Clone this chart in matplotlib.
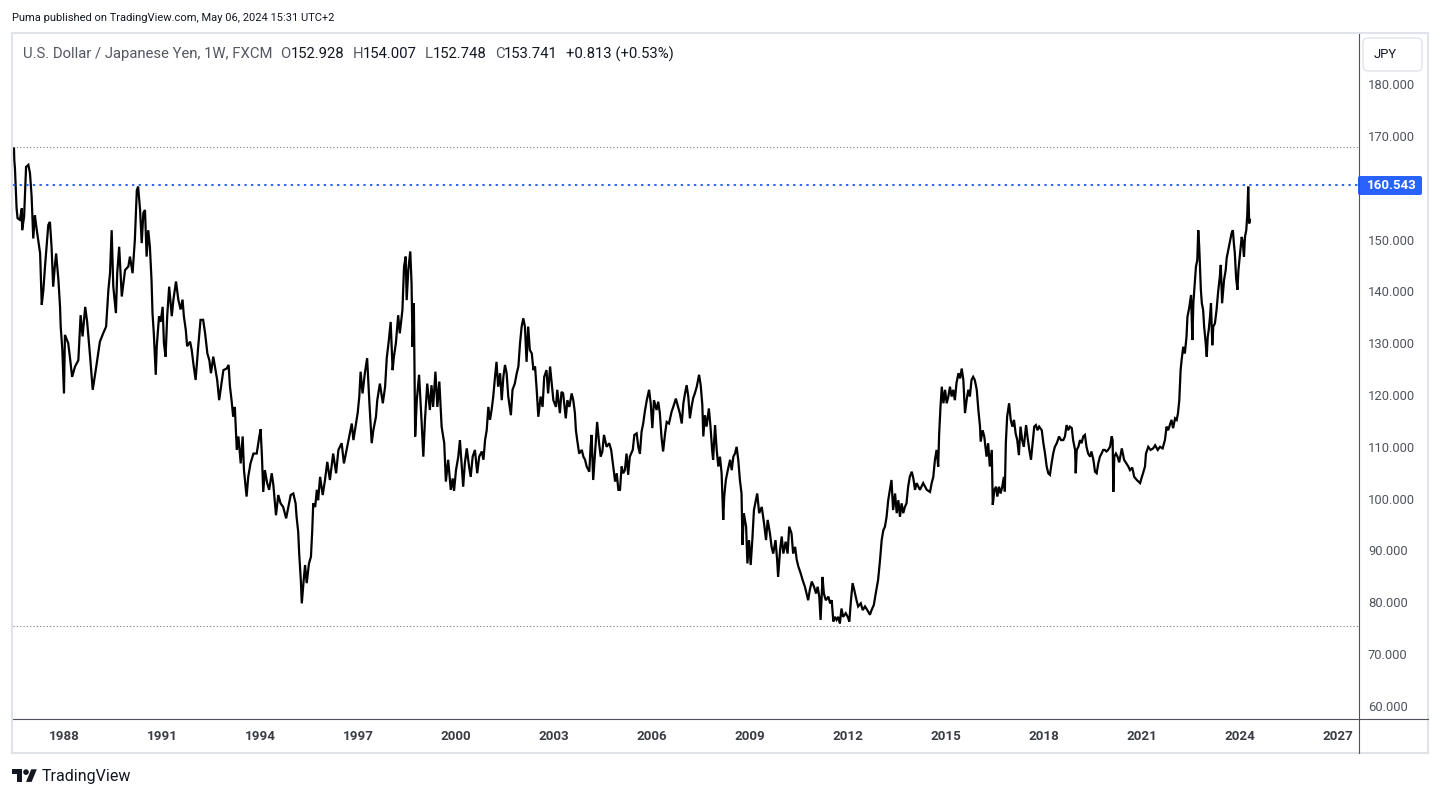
import matplotlib
matplotlib.use("Agg")
import matplotlib.pyplot as plt
from matplotlib.lines import Line2D
from matplotlib.patches import FancyBboxPatch, Rectangle, Polygon, Circle
from matplotlib.transforms import Affine2D

# %% Data (weekly USD/JPY; x in decimal years)
YEARS_1986 = [1986.47, 1986.48, 1986.50, 1986.55, 1986.58, 1986.65, 1986.71, 1986.72, 1986.78, 1986.84, 1986.91, 1986.96,
              1987.01, 1987.06, 1987.11, 1987.16, 1987.27, 1987.32, 1987.37, 1987.42, 1987.52, 1987.57, 1987.62, 1987.67,
              1987.72, 1987.76, 1987.83, 1987.88, 1987.90, 1987.95,
              1988.00, 1988.03, 1988.13, 1988.18, 1988.25, 1988.34, 1988.44, 1988.51, 1988.57, 1988.65, 1988.71, 1988.80,
              1988.88, 1988.98,
              1989.10, 1989.20, 1989.29, 1989.36, 1989.41, 1989.46, 1989.51, 1989.59, 1989.63, 1989.69, 1989.77, 1989.87,
              1989.97,
              1990.02, 1990.10, 1990.17, 1990.23, 1990.27, 1990.33, 1990.38, 1990.43, 1990.48, 1990.53, 1990.58, 1990.63,
              1990.68, 1990.71, 1990.75, 1990.81, 1990.84, 1990.91, 1990.96,
              1991.02, 1991.06, 1991.11, 1991.16, 1991.22, 1991.30, 1991.35, 1991.43, 1991.50, 1991.57, 1991.63, 1991.67,
              1991.73, 1991.77, 1991.86, 1991.91, 1991.96,
              1992.03, 1992.11, 1992.18, 1992.26, 1992.32, 1992.39, 1992.45, 1992.50, 1992.57, 1992.64, 1992.69, 1992.75,
              1992.81, 1992.88, 1992.98,
              1993.04, 1993.08, 1993.13]
PRICES_1986 = [167.6, 165.3, 163.7, 156.0, 154.1, 153.8, 156.0, 151.8, 154.4, 164.0, 164.4, 162.8,
               158.3, 150.2, 154.7, 152.2, 147.3, 137.4, 140.3, 144.8, 152.8, 153.4, 148.6, 140.9,
               144.8, 147.3, 142.2, 137.0, 133.2, 128.7,
               120.3, 131.6, 130.0, 127.4, 123.5, 125.5, 126.7, 135.4, 131.3, 137.0, 134.1, 127.4,
               121.0, 125.1,
               130.3, 131.9, 133.2, 140.3, 143.5, 151.8, 140.9, 135.8, 143.5, 148.6, 139.0, 144.1,
               144.8,
               146.7, 143.5, 149.9, 159.5, 160.2, 155.7, 149.3, 155.1, 155.7, 146.7, 151.8, 148.6,
               142.2, 135.8, 131.9, 123.9, 129.4, 135.2, 134.1,
               137.0, 130.0, 127.4, 135.2, 140.9, 135.2, 138.4, 141.9, 138.4, 136.5, 138.4, 135.2,
               132.5, 129.4, 130.3, 128.7, 126.1,
               122.9, 129.4, 134.5, 134.5, 131.9, 128.0, 126.7, 124.2, 127.4, 124.8, 122.9, 119.0,
               121.7, 124.8, 125.1,
               125.8, 121.7, 119.0]

YEARS_1993 = [1993.18, 1993.23, 1993.29, 1993.34, 1993.41, 1993.47, 1993.51, 1993.59, 1993.64, 1993.71, 1993.80, 1993.90,
              1993.98,
              1994.02, 1994.06, 1994.10, 1994.15, 1994.22, 1994.28, 1994.36, 1994.41, 1994.49, 1994.56, 1994.63, 1994.71,
              1994.80, 1994.87, 1994.94,
              1995.02, 1995.09, 1995.12, 1995.17, 1995.20, 1995.25, 1995.28, 1995.33, 1995.38, 1995.43, 1995.50, 1995.56,
              1995.60, 1995.63, 1995.69, 1995.74, 1995.78, 1995.84, 1995.92, 1995.99,
              1996.06, 1996.14, 1996.24, 1996.33, 1996.40, 1996.50, 1996.57, 1996.65, 1996.73, 1996.81, 1996.86, 1996.94,
              1996.99,
              1997.04, 1997.08, 1997.14, 1997.21, 1997.28, 1997.35, 1997.42, 1997.47, 1997.55, 1997.59, 1997.67, 1997.76,
              1997.83, 1997.88, 1997.94,
              1998.00, 1998.06, 1998.10, 1998.16, 1998.23, 1998.28, 1998.36, 1998.41, 1998.46, 1998.49, 1998.54, 1998.60,
              1998.64, 1998.67, 1998.71, 1998.75, 1998.80, 1998.87, 1998.95,
              1999.00, 1999.05, 1999.12, 1999.20, 1999.25, 1999.30, 1999.37, 1999.43, 1999.49, 1999.56, 1999.64, 1999.69,
              1999.76, 1999.84, 1999.90, 1999.94]
PRICES_1993 = [115.8, 117.7, 109.4, 112.0, 106.8, 112.0, 105.5, 100.4, 104.2, 106.8, 108.7, 108.7,
               112.0,
               113.4, 108.1, 101.3, 105.5, 103.0, 101.7, 104.9, 102.6, 96.8, 100.7, 99.1, 98.4,
               96.2, 98.4, 100.7,
               101.0, 99.1, 96.5, 93.6, 89.4, 84.3, 79.8, 83.7, 87.2, 83.7, 87.5, 88.8,
               93.9, 99.1, 98.4, 101.7, 99.7, 104.2, 100.7, 103.6,
               107.1, 103.6, 108.7, 104.9, 109.4, 110.7, 106.8, 109.4, 112.0, 114.5, 111.3, 114.5,
               116.5,
               119.7, 124.5, 120.3, 124.2, 127.1, 118.4, 110.7, 113.2, 115.8, 119.0, 122.2, 118.4,
               121.6, 127.1, 130.3,
               134.1, 124.8, 127.4, 130.0, 135.4, 131.9, 136.4, 144.8, 146.7, 138.3, 144.1, 147.7,
               141.5, 129.3, 137.7, 112.0, 119.0, 123.9, 114.5,
               108.1, 115.2, 122.2, 117.1, 121.9, 117.7, 124.5, 117.7, 122.6, 113.9, 110.7, 103.3,
               107.5, 101.7, 103.9, 101.5]

YEARS_2000 = [2000.00, 2000.07, 2000.12, 2000.17, 2000.22, 2000.27, 2000.33, 2000.40, 2000.45, 2000.51, 2000.58, 2000.65,
              2000.71, 2000.79, 2000.84, 2000.89, 2000.94, 2000.99,
              2001.04, 2001.09, 2001.14, 2001.19, 2001.24, 2001.29, 2001.35, 2001.40, 2001.45, 2001.50, 2001.55, 2001.60,
              2001.68, 2001.73, 2001.80, 2001.86, 2001.91, 2001.96,
              2002.01, 2002.06, 2002.11, 2002.16, 2002.21, 2002.26, 2002.32, 2002.37, 2002.42, 2002.47, 2002.52, 2002.59,
              2002.65, 2002.70, 2002.77, 2002.82, 2002.88, 2002.93, 2002.98,
              2003.06, 2003.10, 2003.18, 2003.23, 2003.28, 2003.36, 2003.41, 2003.47, 2003.54, 2003.59, 2003.64, 2003.67,
              2003.71, 2003.77, 2003.85, 2003.90, 2003.95,
              2004.00, 2004.08, 2004.12, 2004.15, 2004.20, 2004.27, 2004.32, 2004.38, 2004.43, 2004.48, 2004.53, 2004.61,
              2004.69, 2004.75, 2004.80, 2004.87, 2004.92, 2004.97,
              2005.02, 2005.07, 2005.12, 2005.17, 2005.22, 2005.27, 2005.32, 2005.41, 2005.46, 2005.53, 2005.58, 2005.63,
              2005.68, 2005.73, 2005.78, 2005.84, 2005.91, 2005.96,
              2006.01, 2006.06, 2006.14, 2006.19, 2006.24, 2006.29, 2006.34, 2006.40, 2006.45, 2006.52, 2006.60, 2006.65,
              2006.73, 2006.80, 2006.85, 2006.91, 2006.96]
PRICES_2000 = [105.5, 108.1, 111.3, 106.8, 102.3, 106.8, 109.7, 106.2, 104.2, 108.1, 109.4, 104.9,
               108.1, 109.1, 107.5, 111.3, 113.2, 117.7,
               115.2, 117.1, 119.7, 123.2, 126.4, 121.6, 124.2, 119.0, 123.5, 125.8, 124.2, 119.7,
               116.1, 121.0, 122.2, 124.2, 125.5, 130.0,
               133.2, 134.8, 133.2, 126.4, 133.2, 128.7, 128.0, 124.8, 125.5, 121.0, 115.8, 119.7,
               117.7, 123.5, 124.8, 120.3, 125.5, 122.2, 119.0,
               117.7, 121.0, 116.5, 120.6, 120.3, 115.5, 119.0, 117.7, 120.3, 119.0, 116.5, 113.2,
               111.3, 108.7, 109.4, 108.1, 107.5,
               106.2, 105.2, 110.0, 112.3, 103.6, 110.0, 114.8, 110.7, 108.1, 109.1, 112.3, 110.0,
               110.7, 109.4, 106.8, 103.3, 104.9, 101.7,
               101.7, 106.2, 104.9, 105.5, 108.7, 104.6, 108.1, 109.4, 112.3, 112.6, 110.0, 108.7,
               112.9, 114.5, 116.8, 119.0, 121.0, 118.4,
               113.6, 119.0, 117.1, 118.7, 116.5, 111.9, 109.1, 112.6, 114.8, 114.5, 116.8, 117.7,
               119.3, 117.7, 116.5, 114.5, 118.4]

YEARS_2007 = [2007.01, 2007.06, 2007.11, 2007.16, 2007.21, 2007.26, 2007.31, 2007.37, 2007.44, 2007.49, 2007.54, 2007.57,
              2007.62, 2007.67, 2007.74, 2007.79, 2007.84, 2007.87, 2007.93, 2007.98,
              2008.03, 2008.08, 2008.13, 2008.18, 2008.21, 2008.26, 2008.32, 2008.39, 2008.44, 2008.49, 2008.54, 2008.59,
              2008.64, 2008.69, 2008.74, 2008.77, 2008.81, 2008.88, 2008.92, 2008.97,
              2009.02, 2009.07, 2009.12, 2009.18, 2009.22, 2009.28, 2009.36, 2009.43, 2009.49, 2009.54, 2009.61, 2009.66,
              2009.71, 2009.78, 2009.83, 2009.86, 2009.92, 2009.97,
              2010.02, 2010.09, 2010.15, 2010.20, 2010.27, 2010.32, 2010.38, 2010.43, 2010.48, 2010.55, 2010.61, 2010.68,
              2010.73, 2010.78, 2010.83, 2010.89, 2010.96,
              2011.02, 2011.07, 2011.12, 2011.16, 2011.22, 2011.26, 2011.32, 2011.40, 2011.45, 2011.50, 2011.55, 2011.60,
              2011.65, 2011.70, 2011.75, 2011.80, 2011.85, 2011.93, 2011.99,
              2012.04, 2012.09, 2012.14, 2012.19, 2012.26, 2012.31, 2012.39, 2012.45, 2012.52, 2012.59, 2012.67, 2012.72,
              2012.79, 2012.85, 2012.92, 2012.98,
              2013.03, 2013.08, 2013.13, 2013.18, 2013.23, 2013.28, 2013.33, 2013.38, 2013.44, 2013.49, 2013.54, 2013.59,
              2013.64, 2013.69, 2013.74, 2013.79, 2013.84, 2013.89, 2013.95]
PRICES_2007 = [120.3, 121.9, 119.7, 115.5, 117.7, 119.4, 120.3, 121.6, 123.9, 121.9, 118.1, 112.0,
               116.1, 113.9, 117.4, 113.9, 109.4, 107.5, 114.2, 109.4,
               106.2, 108.1, 104.9, 95.9, 100.4, 103.6, 105.5, 107.5, 105.5, 108.1, 108.7, 110.0,
               107.5, 103.6, 101.0, 91.1, 97.2, 94.6, 87.5, 92.0,
               87.2, 92.0, 97.8, 99.7, 101.0, 97.2, 98.4, 95.2, 92.0, 95.9, 93.3, 90.7,
               89.4, 92.0, 88.2, 84.9, 90.1, 92.7,
               89.4, 91.7, 89.4, 94.6, 93.3, 89.4, 90.7, 88.2, 86.9, 85.6, 84.3, 83.0,
               81.7, 80.4, 82.4, 84.0, 83.0,
               81.7, 83.0, 81.1, 76.6, 84.9, 81.7, 80.4, 81.1, 79.8, 80.4, 76.3, 77.2,
               76.6, 77.2, 75.9, 78.8, 77.2, 77.9, 77.2,
               76.3, 80.4, 83.7, 82.4, 80.4, 79.2, 79.8, 78.5, 79.2, 78.5, 77.6, 78.5,
               79.5, 81.8, 84.3, 88.2,
               92.0, 93.9, 94.6, 96.5, 99.7, 101.7, 103.6, 97.8, 101.0, 97.2, 99.7, 96.5,
               99.1, 97.2, 98.4, 99.1, 102.3, 104.2, 105.2]

YEARS_2014 = [2014.00, 2014.05, 2014.10, 2014.20, 2014.30, 2014.41, 2014.51, 2014.56, 2014.61, 2014.66, 2014.71, 2014.76,
              2014.79, 2014.83, 2014.87, 2014.92, 2014.97,
              2015.02, 2015.07, 2015.12, 2015.17, 2015.22, 2015.27, 2015.32, 2015.38, 2015.43, 2015.48, 2015.53, 2015.58,
              2015.63, 2015.68, 2015.73, 2015.78, 2015.83, 2015.88, 2015.94, 2015.99,
              2016.04, 2016.06, 2016.12, 2016.17, 2016.24, 2016.29, 2016.34, 2016.40, 2016.43, 2016.48, 2016.53, 2016.57,
              2016.62, 2016.67, 2016.72, 2016.77, 2016.80, 2016.83, 2016.87, 2016.93, 2016.98,
              2017.03, 2017.08, 2017.13, 2017.18, 2017.23, 2017.28, 2017.33, 2017.38, 2017.45, 2017.50, 2017.55, 2017.60,
              2017.65, 2017.70, 2017.75, 2017.80, 2017.85, 2017.93, 2017.98,
              2018.03, 2018.08, 2018.13, 2018.18, 2018.23, 2018.28, 2018.33, 2018.39, 2018.46, 2018.52, 2018.59, 2018.64,
              2018.69, 2018.74, 2018.79, 2018.85, 2018.89, 2018.95, 2018.97,
              2019.00, 2019.05, 2019.10, 2019.15, 2019.20, 2019.25, 2019.30, 2019.35, 2019.41, 2019.45, 2019.51, 2019.56,
              2019.61, 2019.66, 2019.71, 2019.76, 2019.81, 2019.86, 2019.91, 2019.96]
PRICES_2014 = [103.9, 101.7, 103.0, 101.7, 103.0, 101.7, 101.3, 103.0, 104.2, 107.5, 109.4, 106.2,
               112.6, 117.7, 121.6, 118.4, 121.0,
               118.4, 119.7, 121.6, 119.7, 121.0, 119.0, 122.3, 124.2, 123.2, 125.1, 122.9, 116.5,
               119.0, 121.0, 119.7, 122.9, 123.5, 122.9, 121.0, 117.1,
               113.9, 111.0, 113.2, 112.0, 108.1, 110.7, 106.2, 109.4, 98.8, 101.7, 102.3, 100.4,
               102.3, 101.0, 102.3, 104.2, 101.4, 110.7, 115.8, 118.4, 115.2,
               113.9, 115.2, 112.6, 111.3, 108.4, 113.9, 111.3, 110.0, 114.2, 111.6, 109.4, 107.5,
               110.7, 113.9, 114.2, 113.2, 113.9, 113.2, 110.7,
               108.7, 106.2, 104.9, 104.6, 106.8, 108.7, 110.0, 110.7, 112.0, 111.3, 111.3, 112.0,
               114.2, 113.2, 113.9, 113.6, 111.3, 109.4, 104.9,
               109.4, 110.0, 111.3, 110.7, 112.0, 112.3, 110.0, 108.7, 108.1, 109.1, 107.5, 105.2,
               104.9, 106.8, 108.1, 108.7, 109.4, 109.4, 109.1, 109.4]

YEARS_2020 = [2020.02, 2020.07, 2020.10, 2020.12, 2020.15, 2020.20, 2020.25, 2020.30, 2020.38, 2020.45, 2020.52, 2020.58,
              2020.63, 2020.70, 2020.76, 2020.84, 2020.94, 2020.98,
              2021.03, 2021.09, 2021.12, 2021.19, 2021.26, 2021.34, 2021.40, 2021.48, 2021.55, 2021.63, 2021.70, 2021.75,
              2021.80, 2021.85, 2021.90, 2021.95,
              2022.01, 2022.06, 2022.10, 2022.14, 2022.18, 2022.21, 2022.26, 2022.31, 2022.36, 2022.39, 2022.44, 2022.50,
              2022.54, 2022.57, 2022.60, 2022.65, 2022.69, 2022.72, 2022.75, 2022.77, 2022.80, 2022.83, 2022.87, 2022.90,
              2022.94, 2022.98,
              2023.01, 2023.04, 2023.08, 2023.11, 2023.15, 2023.18, 2023.23, 2023.28, 2023.33, 2023.38, 2023.41, 2023.45,
              2023.51, 2023.56, 2023.59, 2023.64, 2023.69, 2023.74, 2023.78, 2023.81, 2023.84, 2023.88, 2023.92, 2023.95,
              2024.00, 2024.05, 2024.08, 2024.12, 2024.15, 2024.19, 2024.22, 2024.25, 2024.28, 2024.30]
PRICES_2020 = [110.0, 112.0, 111.3, 101.3, 108.1, 108.7, 108.1, 107.0, 109.7, 107.5, 106.8, 106.2,
               105.5, 106.0, 104.2, 103.6, 103.0, 103.9,
               104.9, 106.2, 108.7, 110.0, 109.4, 109.7, 110.3, 109.4, 110.0, 109.7, 111.3, 113.9,
               113.2, 114.2, 115.2, 113.6,
               115.5, 115.2, 116.5, 119.0, 124.8, 126.7, 129.3, 128.0, 131.2, 135.1, 136.7, 139.3,
               130.6, 137.7, 140.3, 144.8, 146.0, 151.8, 148.6, 145.1, 140.3, 137.7, 136.4, 133.2,
               130.6, 127.4,
               131.2, 132.5, 135.1, 137.7, 129.6, 133.2, 133.8, 136.4, 140.0, 142.8, 145.1, 137.7,
               142.2, 144.1, 146.4, 148.0, 149.6, 151.2, 151.8, 149.3, 147.3, 142.5, 140.3, 144.1,
               147.3, 150.5, 149.6, 146.7, 150.5, 151.8, 154.7, 160.2, 153.1, 153.8]

SEGMENTS = [(YEARS_1986, PRICES_1986), (YEARS_1993, PRICES_1993), (YEARS_2000, PRICES_2000),
            (YEARS_2007, PRICES_2007), (YEARS_2014, PRICES_2014), (YEARS_2020, PRICES_2020)]

YEAR_TICKS = [1988, 1991, 1994, 1997, 2000, 2003, 2006, 2009, 2012, 2015, 2018, 2021, 2024, 2027]
# 160 is hidden behind the last-high label on the price scale
PRICE_TICKS = [60, 70, 80, 90, 100, 110, 120, 130, 140, 150, 170, 180]
LAST_HIGH = 160.543
RANGE_HIGH = 167.9
RANGE_LOW = 75.5

HEADER = "Puma published on TradingView.com, May 06, 2024 15:31 UTC+2"
SYMBOL = "U.S. Dollar / Japanese Yen, 1W, FXCM"
OHLC = [("O", "152.928"), ("H", "154.007"), ("L", "152.748"), ("C", "153.741")]
CHANGE = "+0.813 (+0.53%)"

# %% Style
W, H = 1441, 798
FONT = ["Roboto", "DejaVu Sans"]
TEXT_COLOR = "#131722"
MUTED = "#555862"
SCALE_COLOR = "#50535e"
BORDER_COLOR = "#e0e3eb"
AXIS_LINE_COLOR = "#50535e"
BLUE = "#2962ff"

plt.rcParams["font.family"] = FONT

fig = plt.figure(figsize=(W / 100, H / 100), dpi=100)
fig.patch.set_facecolor("white")

# pixel coords, y measured from the top
PX = Affine2D().scale(1, -1).translate(0, H)

PLOT_L, PLOT_R, PLOT_T, PLOT_B = 13, 1358, 34, 718
ax = fig.add_axes([PLOT_L / W, 1 - PLOT_B / H, (PLOT_R - PLOT_L) / W, (PLOT_B - PLOT_T) / H])
ax.set_xlim(1986.44, 2027.61)
ax.set_ylim(57.68, 189.65)
for s in ax.spines.values():
    s.set_visible(False)

all_years = [y for yrs, _ in SEGMENTS for y in yrs]
all_prices = [p for _, ps in SEGMENTS for p in ps]
ax.plot(all_years, all_prices, color="black", lw=1.6, solid_joinstyle="miter")

ax.axhline(RANGE_HIGH, color="#787b86", lw=0.8, dashes=(1, 2))
ax.axhline(RANGE_LOW, color="#787b86", lw=0.8, dashes=(1, 2))
ax.axhline(LAST_HIGH, color=BLUE, lw=1.4, dashes=(1.2, 2.2))

ax.set_xticks(YEAR_TICKS)
ax.set_xticklabels([str(y) for y in YEAR_TICKS], fontsize=9.6, fontweight="bold", color="#3b3d45")
ax.tick_params(axis="x", length=0, pad=9)
ax.yaxis.tick_right()
ax.set_yticks(PRICE_TICKS)
ax.set_yticklabels([f"{p:.3f}" for p in PRICE_TICKS], fontsize=9.4, color=SCALE_COLOR)
ax.tick_params(axis="y", length=0, pad=7.2)

# %% Frame and separators
fig.patches.append(Rectangle((12, 33), 1416, 720, transform=PX, fill=False,
                             edgecolor=BORDER_COLOR, lw=1.5))
fig.lines.append(Line2D([PLOT_R + 0.5, PLOT_R + 0.5], [PLOT_T, 753], transform=PX,
                        color=AXIS_LINE_COLOR, lw=0.8))
fig.lines.append(Line2D([PLOT_L, 1428], [PLOT_B + 0.5, PLOT_B + 0.5], transform=PX,
                        color=AXIS_LINE_COLOR, lw=0.8))

# currency button
fig.patches.append(FancyBboxPatch((1363, 38), 59, 33, transform=PX,
                                  boxstyle="round,pad=0,rounding_size=5",
                                  facecolor="white", edgecolor=BORDER_COLOR, lw=1))
fig.text(1374, 55, "JPY", transform=PX, fontsize=9.4, color=TEXT_COLOR, va="center", ha="left")

# last high label
fig.patches.append(FancyBboxPatch((1358, 176), 64, 19, transform=PX,
                                  boxstyle="round,pad=0,rounding_size=2",
                                  facecolor=BLUE, edgecolor="none"))
fig.text(1367, 185.5, f"{LAST_HIGH:.3f}", transform=PX, fontsize=9.6, color="white",
         va="center", ha="left", fontweight="bold")

# %% Header texts
fig.text(12, 18, HEADER, transform=PX, fontsize=8.0, color=TEXT_COLOR, va="center")

renderer = fig.canvas.get_renderer()


def put(x, s, color, gap=0.0):
    t = fig.text(x, 54, s, transform=PX, fontsize=10.7, color=color, va="center")
    bb = t.get_window_extent(renderer)
    return bb.x1 + gap


x = put(23, SYMBOL, MUTED, gap=8)
for letter, val in OHLC:
    x = put(x, letter, MUTED)
    x = put(x, val, TEXT_COLOR, gap=8)
put(x, CHANGE, TEXT_COLOR)

# %% TradingView logo
LX, LY, LS = 12, 766.5, 0.7


def lp(pts):
    return [(LX + px * LS, LY + py * LS) for px, py in pts]


fig.patches.append(Polygon(lp([(0, 4), (14, 4), (14, 22), (7, 22), (7, 11), (0, 11)]),
                           closed=True, transform=PX, facecolor=TEXT_COLOR, edgecolor="none"))
fig.patches.append(Circle((LX + 20 * LS, LY + 8 * LS), 4 * LS, transform=PX,
                          facecolor=TEXT_COLOR, edgecolor="none"))
fig.patches.append(Polygon(lp([(20, 22), (27.5, 4), (35.5, 4), (28, 22)]),
                           closed=True, transform=PX, facecolor=TEXT_COLOR, edgecolor="none"))
fig.text(42, 776, "TradingView", transform=PX, fontsize=11.5, color=TEXT_COLOR, va="center")

fig.savefig("out.png", dpi=100)
